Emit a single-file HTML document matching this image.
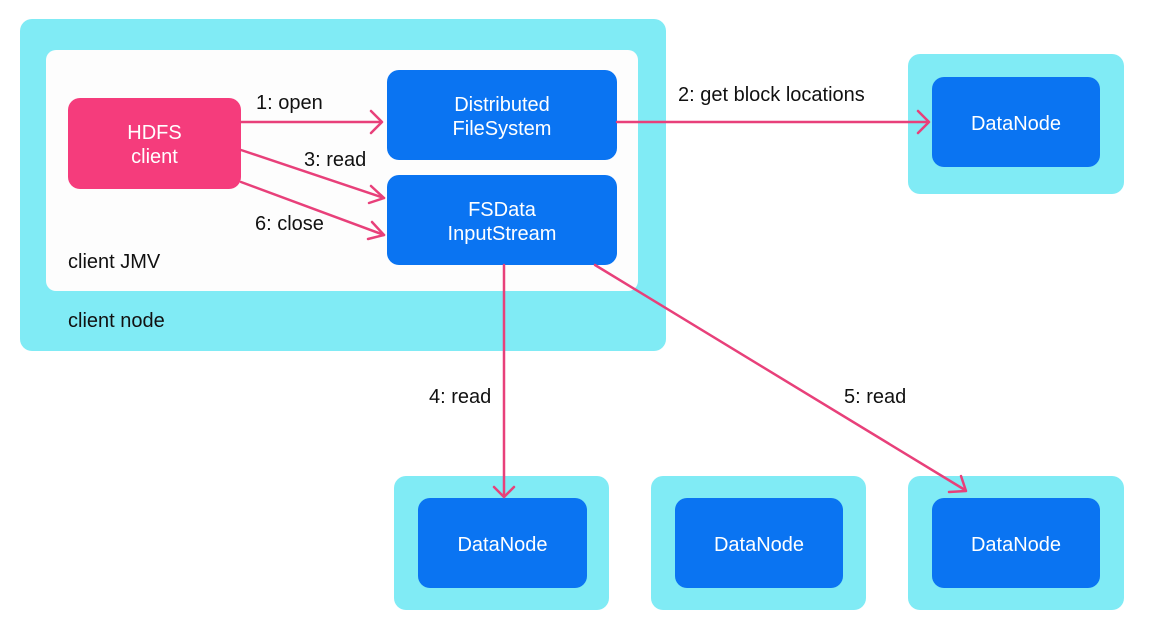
<!DOCTYPE html>
<html><head><style>
body{margin:0;width:1168px;height:629px;background:#fff;position:relative;overflow:hidden;font-family:"Liberation Sans",sans-serif}
.b{position:absolute;border-radius:12px}
.c{background:#80ebf5}
.n{background:#0a74f2;color:#fff;display:flex;align-items:center;justify-content:center;text-align:center;font-size:20px;line-height:24px;border-radius:12px;position:absolute;padding-top:3px;box-sizing:border-box}
.t{position:absolute;font-size:20px;color:#111}
</style></head><body>
<div class="b c" style="left:20px;top:19px;width:646px;height:332px"></div>
<div class="b" style="left:46px;top:50px;width:592px;height:241px;background:#fdfdfd;border-radius:10px"></div>
<div class="n" style="left:68px;top:98px;width:173px;height:91px;background:#f53c7c">HDFS<br>client</div>
<div class="n" style="left:387px;top:70px;width:230px;height:90px">Distributed<br>FileSystem</div>
<div class="n" style="left:387px;top:175px;width:230px;height:90px">FSData<br>InputStream</div>
<div class="t" style="left:68px;top:251px">client JMV</div>
<div class="t" style="left:68px;top:310px">client node</div>
<div class="b c" style="left:908px;top:54px;width:216px;height:140px"></div>
<div class="n" style="left:932px;top:77px;width:168px;height:90px">DataNode</div>
<div class="b c" style="left:394px;top:476px;width:215px;height:134px"></div>
<div class="n" style="left:418px;top:498px;width:169px;height:90px">DataNode</div>
<div class="b c" style="left:651px;top:476px;width:215px;height:134px"></div>
<div class="n" style="left:675px;top:498px;width:168px;height:90px">DataNode</div>
<div class="b c" style="left:908px;top:476px;width:216px;height:134px"></div>
<div class="n" style="left:932px;top:498px;width:168px;height:90px">DataNode</div>
<svg width="1168" height="629" style="position:absolute;left:0;top:0">
<g stroke="#e8407a" stroke-width="2.5" fill="none" stroke-linecap="round" stroke-linejoin="round">
<line x1="241" y1="122" x2="381" y2="122"/><polyline points="371,111 382,122 371,133"/>
<line x1="241" y1="150" x2="384" y2="198"/><polyline points="371,186 384,198 369,203"/>
<line x1="241" y1="182" x2="384" y2="235"/><polyline points="372,222 384,235 368,239"/>
<line x1="617" y1="122" x2="928" y2="122"/><polyline points="918,111 929,122 918,133"/>
<line x1="504" y1="265" x2="504" y2="497"/><polyline points="494,487 504,497 514,487"/>
<line x1="595" y1="265" x2="965" y2="490"/><polyline points="949,492 966,491 961,476"/>
</g></svg>
<div class="t" style="left:256px;top:92px">1: open</div>
<div class="t" style="left:304px;top:149px">3: read</div>
<div class="t" style="left:255px;top:213px">6: close</div>
<div class="t" style="left:678px;top:84px">2: get block locations</div>
<div class="t" style="left:429px;top:386px">4: read</div>
<div class="t" style="left:844px;top:386px">5: read</div>
</body></html>
